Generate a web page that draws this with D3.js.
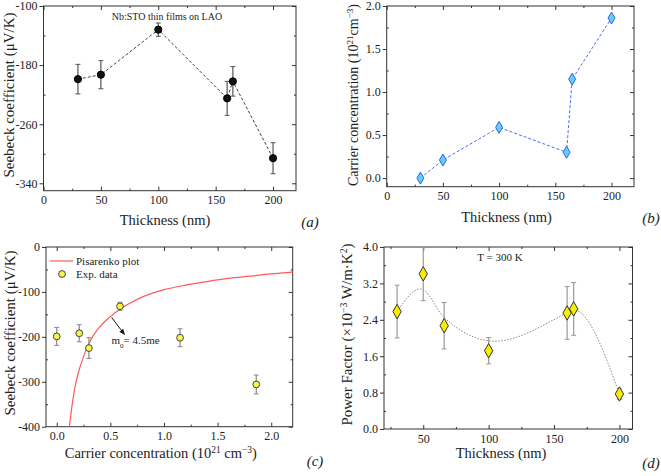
<!DOCTYPE html>
<html><head><meta charset="utf-8">
<script src="https://cdn.jsdelivr.net/npm/d3@7"></script>
<style>
body{margin:0;background:#fff}
svg{display:block}
svg text{font-family:'Liberation Serif','Tinos','DejaVu Serif','Noto Serif',serif !important;fill:#222}
</style>
</head><body>
<svg id="chart" width="661" height="476"></svg>
<script>
// ---------- Panel (a): Seebeck vs thickness ----------
const thickA = [30, 50, 100, 160, 165, 200];
const seebeckA = [-199, -193, -132, -225, -202, -306];
const seebeckErrA = [20, 19, 9, 23, 20, 21];
const xTicksA = [0, 50, 100, 150, 200];
const yTicksA = [-100, -180, -260, -340];

// ---------- Panel (b): carrier concentration vs thickness ----------
const thickB = [30, 50, 100, 160, 165, 200];
const carrierB = [0.0, 0.21, 0.59, 0.30, 1.15, 1.86];
const xTicksB = [0, 50, 100, 150, 200];
const yTicksB = [0.0, 0.5, 1.0, 1.5, 2.0];

// ---------- Panel (c): Pisarenko plot ----------
const carrierC = [0.0, 0.21, 0.30, 0.59, 1.15, 1.86];
const seebeckC = [-199, -192, -225, -132, -202, -306];
const seebeckErrC = [20, 19, 23, 9, 20, 21];
const pisarenkoN = [0.118, 0.14, 0.16, 0.18, 0.20, 0.25, 0.30, 0.35, 0.40, 0.50, 0.60, 0.70, 0.80, 0.90, 1.00, 1.20, 1.40, 1.60, 1.80, 2.00, 2.20];
const pisarenkoS = [-400, -358, -326, -301, -281, -244, -215, -194, -178, -155, -137, -123, -111, -102, -95, -85, -77, -70, -65, -60, -56];
const xTicksC = [0.0, 0.5, 1.0, 1.5, 2.0];
const yTicksC = [0, -100, -200, -300, -400];

// ---------- Panel (d): power factor vs thickness ----------
const thickD = [30, 50, 66, 100, 160, 165, 200];
const pfD = [2.58, 3.41, 2.27, 1.72, 2.55, 2.64, 0.77];
const pfErrD = [0.58, 0.59, 0.51, 0.29, 0.58, 0.58, 0.12];
const fitThickD = [30, 48, 66, 105, 160, 165, 200];
const fitPfD = [2.58, 3.08, 2.45, 1.93, 2.55, 2.62, 0.77];
const xTicksD = [50, 100, 150, 200];
const yTicksD = [0.0, 0.8, 1.6, 2.4, 3.2, 4.0];

const FONT = "'Liberation Serif','Tinos','DejaVu Serif','Noto Serif',serif";
const svg = d3.select("#chart").attr("font-family", FONT);
const TICK_FS = 12, LABEL_FS = 14.5, YLABEL_FS = 15;

function minorBetween(ticks) {
  const out = [];
  for (let i = 0; i < ticks.length - 1; i++) out.push((ticks[i] + ticks[i + 1]) / 2);
  return out;
}

function frame(x, y, o) {
  const [x0, x1] = x.range(), [y0, y1] = y.range(); // y0 bottom, y1 top
  const g = svg.append("g");
  const style = sel => {
    sel.attr("font-family", FONT);
    sel.select(".domain").remove();
    sel.selectAll("line").attr("stroke", "#333").attr("stroke-width", 1);
    sel.selectAll("text").attr("font-size", TICK_FS).attr("fill", "#222");
  };
  const xMinor = o.xMinor, yMinor = o.yMinor;
  g.append("g").attr("transform", `translate(${x0},0)`)
    .call(d3.axisLeft(y).tickValues(o.yTicks).tickSize(4).tickPadding(2).tickFormat(o.yFmt)).call(style);
  g.append("g").attr("transform", `translate(${x0},0)`)
    .call(d3.axisLeft(y).tickValues(yMinor).tickSize(-2).tickFormat("")).call(style);
  g.append("g").attr("transform", `translate(${x1},0)`)
    .call(d3.axisRight(y).tickValues(o.yTicks).tickSize(-4).tickFormat("")).call(style);
  g.append("g").attr("transform", `translate(${x1},0)`)
    .call(d3.axisRight(y).tickValues(yMinor).tickSize(-2).tickFormat("")).call(style);
  g.append("g").attr("transform", `translate(0,${y0})`)
    .call(d3.axisBottom(x).tickValues(o.xTicks).tickSize(-4).tickPadding(5).tickFormat(o.xFmt)).call(style);
  g.append("g").attr("transform", `translate(0,${y0})`)
    .call(d3.axisBottom(x).tickValues(xMinor).tickSize(-2).tickFormat("")).call(style);
  g.append("g").attr("transform", `translate(0,${y1})`)
    .call(d3.axisTop(x).tickValues(o.xTicks).tickSize(-4).tickFormat("")).call(style);
  g.append("g").attr("transform", `translate(0,${y1})`)
    .call(d3.axisTop(x).tickValues(xMinor).tickSize(-2).tickFormat("")).call(style);
  g.append("rect").attr("x", x0).attr("y", y1).attr("width", x1 - x0).attr("height", y0 - y1)
    .attr("fill", "none").attr("stroke", "#333").attr("stroke-width", 1);
  return g;
}

function yLabel(xb, yc, parts, fs) {
  fs = fs || YLABEL_FS;
  const t = svg.append("text").attr("transform", `translate(${xb},${yc}) rotate(-90)`)
    .attr("text-anchor", "middle").attr("font-size", fs);
  parts.forEach(p => {
    const s = t.append("tspan").text(p.t);
    if (p.sup) s.attr("font-size", fs * 0.65).attr("baseline-shift", "super");
  });
}
function xLabel(xc, yb, parts) {
  const t = svg.append("text").attr("x", xc).attr("y", yb)
    .attr("text-anchor", "middle").attr("font-size", LABEL_FS);
  parts.forEach(p => {
    const s = t.append("tspan").text(p.t);
    if (p.sup) s.attr("font-size", LABEL_FS * 0.65).attr("baseline-shift", "super");
  });
}
function panelTag(xc, yb, s) {
  svg.append("text").attr("x", xc).attr("y", yb).attr("text-anchor", "middle")
    .attr("font-size", 15).attr("font-style", "italic").text(s);
}
function errBars(g, xs, ys, es, x, y, color, cap) {
  xs.forEach((xv, i) => {
    const px = x(xv), top = y(ys[i] + es[i]), bot = y(ys[i] - es[i]);
    g.append("line").attr("x1", px).attr("x2", px).attr("y1", top).attr("y2", bot)
      .attr("stroke", color).attr("stroke-width", 1.2);
    [top, bot].forEach(yy => g.append("line").attr("x1", px - cap).attr("x2", px + cap)
      .attr("y1", yy).attr("y2", yy).attr("stroke", color).attr("stroke-width", 1));
  });
}
const diamond = d3.symbol().type(d3.symbolDiamond);
const fmtPlain = d => String(d);

// ================= Panel (a) =================
{
  const x = d3.scaleLinear().domain([0, 220]).range([43.5, 296]);
  const y = d3.scaleLinear().domain([-350, -100]).range([190.7, 6]);
  frame(x, y, { xTicks: xTicksA, yTicks: yTicksA, xMinor: [25, 75, 125, 175],
    yMinor: minorBetween(yTicksA), xFmt: fmtPlain, yFmt: fmtPlain });
  const g = svg.append("g");
  errBars(g, thickA, seebeckA, seebeckErrA, x, y, "#555", 2.5);
  g.append("path").datum(thickA.map((t, i) => [t, seebeckA[i]]))
    .attr("d", d3.line().x(d => x(d[0])).y(d => y(d[1])))
    .attr("fill", "none").attr("stroke", "#444").attr("stroke-width", 1).attr("stroke-dasharray", "3,2");
  g.selectAll("circle").data(thickA).join("circle")
    .attr("cx", d => x(d)).attr("cy", (d, i) => y(seebeckA[i])).attr("r", 3.6)
    .attr("fill", "#111").attr("stroke", "#000");
  svg.append("text").attr("x", 167).attr("y", 19.5).attr("text-anchor", "middle")
    .attr("font-size", 10).text("Nb:STO thin films on LAO");
  yLabel(13.5, 95, [{ t: "Seebeck coefficient (μV/K)" }]);
  xLabel(165, 225, [{ t: "Thickness (nm)" }]);
  panelTag(310, 227, "(a)");
}

// ================= Panel (b) =================
{
  const x = d3.scaleLinear().domain([0, 220]).range([386.7, 634]);
  const y = d3.scaleLinear().domain([-0.1, 2.0]).range([186.7, 6]);
  frame(x, y, { xTicks: xTicksB, yTicks: yTicksB, xMinor: [25, 75, 125, 175],
    yMinor: minorBetween(yTicksB), xFmt: fmtPlain, yFmt: d3.format(".1f") });
  const g = svg.append("g");
  g.append("path").datum(thickB.map((t, i) => [t, carrierB[i]]))
    .attr("d", d3.line().x(d => x(d[0])).y(d => y(d[1])))
    .attr("fill", "none").attr("stroke", "#4a6cf0").attr("stroke-width", 1).attr("stroke-dasharray", "3,2");
  g.selectAll("path.pt").data(thickB).join("path").attr("class", "pt")
    .attr("transform", (d, i) => `translate(${x(d)},${y(carrierB[i])})`)
    .attr("d", diamond.size(42)).attr("fill", "#5fd0f8").attr("stroke", "#3a5ee8").attr("stroke-width", 1);
  yLabel(358, 95, [{ t: "Carrier concentration (10" }, { t: "21", sup: true }, { t: "cm" }, { t: "−3", sup: true }, { t: ")" }], 14);
  xLabel(506.5, 221.5, [{ t: "Thickness (nm)" }]);
  panelTag(651, 223, "(b)");
}

// ================= Panel (c) =================
{
  const x = d3.scaleLinear().domain([-0.1, 2.2]).range([46, 292.7]);
  const y = d3.scaleLinear().domain([-400, 0]).range([426.7, 247]);
  frame(x, y, { xTicks: xTicksC, yTicks: yTicksC, xMinor: [0.25, 0.75, 1.25, 1.75],
    yMinor: minorBetween(yTicksC), xFmt: d3.format(".1f"), yFmt: fmtPlain });
  const g = svg.append("g");
  g.append("path").datum(pisarenkoN.map((n, i) => [n, pisarenkoS[i]]))
    .attr("d", d3.line().x(d => x(d[0])).y(d => y(d[1])).curve(d3.curveMonotoneX))
    .attr("fill", "none").attr("stroke", "#ff5a5a").attr("stroke-width", 1.2);
  errBars(g, carrierC, seebeckC, seebeckErrC, x, y, "#888", 2.5);
  g.selectAll("circle.pt").data(carrierC).join("circle").attr("class", "pt")
    .attr("cx", d => x(d)).attr("cy", (d, i) => y(seebeckC[i])).attr("r", 3.4)
    .attr("fill", "#f6f64a").attr("stroke", "#333").attr("stroke-width", 0.9);
  svg.append("line").attr("x1", 50).attr("x2", 73).attr("y1", 261).attr("y2", 261)
    .attr("stroke", "#ff5a5a").attr("stroke-width", 1.2);
  svg.append("text").attr("x", 76).attr("y", 264.5).attr("font-size", 11).text("Pisarenko plot");
  svg.append("circle").attr("cx", 62).attr("cy", 274).attr("r", 3.4)
    .attr("fill", "#f6f64a").attr("stroke", "#333").attr("stroke-width", 0.9);
  svg.append("text").attr("x", 76).attr("y", 277.5).attr("font-size", 11).text("Exp. data");
  svg.append("defs").append("marker").attr("id", "arr").attr("viewBox", "0 0 10 10")
    .attr("refX", 9).attr("refY", 5).attr("markerWidth", 6).attr("markerHeight", 6)
    .attr("orient", "auto").append("path").attr("d", "M0,1 L10,5 L0,9 Z").attr("fill", "#111");
  svg.append("line").attr("x1", 111.7).attr("y1", 317.5).attr("x2", 124.5).attr("y2", 334.5)
    .attr("stroke", "#111").attr("stroke-width", 1).attr("marker-end", "url(#arr)");
  const ann = svg.append("text").attr("x", 111.5).attr("y", 344).attr("font-size", 11);
  ann.append("tspan").text("m");
  ann.append("tspan").attr("font-size", 7).attr("baseline-shift", "sub").text("0");
  ann.append("tspan").text("= 4.5me");
  yLabel(14.5, 333, [{ t: "Seebeck coefficient (μV/K)" }]);
  xLabel(160.8, 457.7, [{ t: "Carrier concentration (10" }, { t: "21", sup: true }, { t: " cm" }, { t: "−3", sup: true }, { t: ")" }]);
  panelTag(315, 466, "(c)");
}

// ================= Panel (d) =================
{
  const x = d3.scaleLinear().domain([20, 210]).range([384, 632.5]);
  const y = d3.scaleLinear().domain([0, 4]).range([429, 247]);
  frame(x, y, { xTicks: xTicksD, yTicks: yTicksD, xMinor: [25, 75, 125, 175],
    yMinor: minorBetween(yTicksD), xFmt: fmtPlain, yFmt: d3.format(".1f") });
  const g = svg.append("g");
  g.append("path").datum(fitThickD.map((t, i) => [t, fitPfD[i]]))
    .attr("d", d3.line().x(d => x(d[0])).y(d => y(d[1])).curve(d3.curveMonotoneX))
    .attr("fill", "none").attr("stroke", "#888").attr("stroke-width", 1).attr("stroke-dasharray", "1.5,1.5");
  errBars(g, thickD, pfD, pfErrD, x, y, "#999", 2.5);
  g.selectAll("path.pt").data(thickD).join("path").attr("class", "pt")
    .attr("transform", (d, i) => `translate(${x(d)},${y(pfD[i])})`)
    .attr("d", diamond.size(60)).attr("fill", "#f8ec00").attr("stroke", "#333").attr("stroke-width", 1);
  svg.append("text").attr("x", 500).attr("y", 261).attr("text-anchor", "middle")
    .attr("font-size", 11).text("T = 300 K");
  yLabel(352, 334.5, [{ t: "Power Factor (×10" }, { t: "−3", sup: true }, { t: " W/m·K" }, { t: "2", sup: true }, { t: ")" }]);
  xLabel(501, 457.7, [{ t: "Thickness (nm)" }]);
  panelTag(651, 467.5, "(d)");
}
</script>
</body></html>
